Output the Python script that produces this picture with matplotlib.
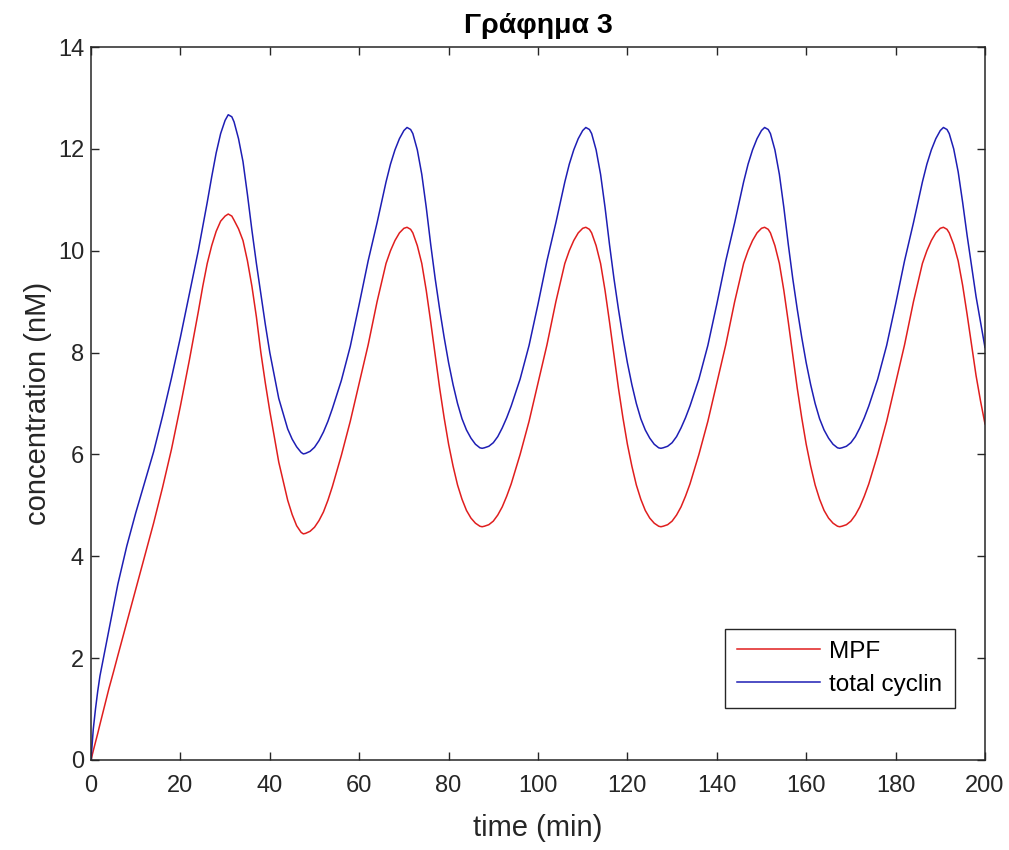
import matplotlib
matplotlib.use("Agg")
import matplotlib.pyplot as plt

# values (one line per oscillation cycle)
time_min = [
    0, 0.5, 1, 1.5, 2, 3, 4, 5, 6, 8, 10, 12, 14, 16, 18, 20, 22, 24, 25, 26, 27, 28, 29, 30, 30.7, 31.5,
    32, 33, 34, 35, 36, 37, 38, 39, 40, 42, 44, 45, 46, 47, 47.5,
    48, 49, 50, 51, 52, 53, 54, 56, 58, 60, 62, 64, 66, 67, 68, 69, 70, 70.7, 71.5, 72, 73, 74, 75, 76, 77, 78, 79, 80, 81, 82, 83, 84, 85, 86, 87, 87.5,
    88, 89, 90, 91, 92, 93, 94, 96, 98, 100, 102, 104, 106, 107, 108, 109, 110, 110.7, 111.5, 112, 113, 114, 115, 116, 117, 118, 119, 120, 121, 122, 123, 124, 125, 126, 127, 127.5,
    128, 129, 130, 131, 132, 133, 134, 136, 138, 140, 142, 144, 146, 147, 148, 149, 150, 150.7, 151.5, 152, 153, 154, 155, 156, 157, 158, 159, 160, 161, 162, 163, 164, 165, 166, 167, 167.5,
    168, 169, 170, 171, 172, 173, 174, 176, 178, 180, 182, 184, 186, 187, 188, 189, 190, 190.7, 191.5, 192, 193, 194, 195, 196, 197, 198, 199, 200,
]
mpf = [
    0, 0.18, 0.35, 0.52, 0.7, 1.05, 1.4, 1.72, 2.05, 2.7, 3.35, 4.0, 4.65, 5.35, 6.1, 6.95, 7.85, 8.8, 9.3, 9.75, 10.1, 10.38, 10.58, 10.68, 10.72, 10.68,
    10.6, 10.43, 10.2, 9.8, 9.3, 8.7, 8.0, 7.4, 6.85, 5.85, 5.1, 4.82, 4.6, 4.47, 4.44,
    4.45, 4.49, 4.57, 4.7, 4.87, 5.1, 5.37, 5.98, 6.65, 7.4, 8.15, 9.0, 9.75, 10.0, 10.2, 10.35, 10.44, 10.46, 10.42, 10.35, 10.1, 9.75, 9.22, 8.6, 7.95, 7.3, 6.72, 6.2, 5.77, 5.4, 5.12, 4.9, 4.75, 4.65, 4.59, 4.58,
    4.59, 4.62, 4.69, 4.81, 4.97, 5.18, 5.42, 6.0, 6.65, 7.4, 8.15, 9.0, 9.75, 10.0, 10.2, 10.35, 10.44, 10.46, 10.42, 10.35, 10.1, 9.75, 9.22, 8.6, 7.95, 7.3, 6.72, 6.2, 5.77, 5.4, 5.12, 4.9, 4.75, 4.65, 4.59, 4.58,
    4.59, 4.62, 4.69, 4.81, 4.97, 5.18, 5.42, 6.0, 6.65, 7.4, 8.15, 9.0, 9.75, 10.0, 10.2, 10.35, 10.44, 10.46, 10.42, 10.35, 10.1, 9.75, 9.22, 8.6, 7.95, 7.3, 6.72, 6.2, 5.77, 5.4, 5.12, 4.9, 4.75, 4.65, 4.59, 4.58,
    4.59, 4.62, 4.69, 4.81, 4.97, 5.18, 5.42, 6.0, 6.65, 7.4, 8.15, 9.0, 9.75, 10.0, 10.2, 10.35, 10.44, 10.46, 10.42, 10.35, 10.12, 9.8, 9.32, 8.75, 8.15, 7.55, 7.05, 6.6,
]
total_cyclin = [
    0, 0.6, 1.0, 1.35, 1.65, 2.1, 2.55, 3.0, 3.45, 4.2, 4.85, 5.45, 6.05, 6.75, 7.5, 8.3, 9.15, 10.0, 10.47, 10.95, 11.45, 11.92, 12.3, 12.56, 12.67, 12.63,
    12.53, 12.2, 11.75, 11.1, 10.4, 9.75, 9.15, 8.55, 8.0, 7.1, 6.5, 6.3, 6.15, 6.04, 6.01,
    6.02, 6.06, 6.14, 6.27, 6.44, 6.65, 6.9, 7.45, 8.12, 8.95, 9.8, 10.55, 11.35, 11.7, 11.98, 12.2, 12.36, 12.42, 12.38, 12.3, 11.98, 11.5, 10.85, 10.12, 9.45, 8.85, 8.3, 7.8, 7.37, 7.0, 6.7, 6.48, 6.32, 6.2, 6.13, 6.12,
    6.13, 6.16, 6.23, 6.35, 6.52, 6.72, 6.95, 7.48, 8.14, 8.95, 9.8, 10.55, 11.35, 11.7, 11.98, 12.2, 12.36, 12.42, 12.38, 12.3, 11.98, 11.5, 10.85, 10.12, 9.45, 8.85, 8.3, 7.8, 7.37, 7.0, 6.7, 6.48, 6.32, 6.2, 6.13, 6.12,
    6.13, 6.16, 6.23, 6.35, 6.52, 6.72, 6.95, 7.48, 8.14, 8.95, 9.8, 10.55, 11.35, 11.7, 11.98, 12.2, 12.36, 12.42, 12.38, 12.3, 11.98, 11.5, 10.85, 10.12, 9.45, 8.85, 8.3, 7.8, 7.37, 7.0, 6.7, 6.48, 6.32, 6.2, 6.13, 6.12,
    6.13, 6.16, 6.23, 6.35, 6.52, 6.72, 6.95, 7.48, 8.14, 8.95, 9.8, 10.55, 11.35, 11.7, 11.98, 12.2, 12.36, 12.42, 12.38, 12.3, 12.0, 11.55, 10.95, 10.3, 9.7, 9.1, 8.6, 8.1,
]
x_ticks = [0, 20, 40, 60, 80, 100, 120, 140, 160, 180, 200]
y_ticks = [0, 2, 4, 6, 8, 10, 12, 14]

plt.rcParams["font.family"] = ["Liberation Sans", "DejaVu Sans"]
plt.rcParams["lines.solid_joinstyle"] = "round"
dark = "#262626"

fig = plt.figure(figsize=(10.09, 8.5), dpi=100)
ax = fig.add_axes([0.0902, 0.1059, 0.8860, 0.8388])

ax.plot(time_min, mpf, color="#e01e1e", lw=1.1, label="MPF")
ax.plot(time_min, total_cyclin, color="#1e1eb4", lw=1.1, label="total cyclin")

ax.set_xlim(0, 200)
ax.set_ylim(0, 14)
ax.set_xticks(x_ticks)
ax.set_yticks(y_ticks)
ax.tick_params(direction="in", length=6, width=1.0, colors=dark, labelsize=17,
               top=True, right=True)
ax.tick_params(axis="x", pad=11)
ax.tick_params(axis="y", pad=5)
for s in ax.spines.values():
    s.set_color(dark)
    s.set_linewidth(1.1)

ax.set_xlabel("time (min)", fontsize=21, color=dark, labelpad=12)
ax.set_ylabel("concentration (nM)", fontsize=21, color=dark, labelpad=4)
ax.set_title("Γράφημα 3", fontsize=20.5, fontweight="bold", color="black", pad=10)

leg = ax.legend(loc="lower right", bbox_to_anchor=(0.966, 0.073), fontsize=17.5,
                fancybox=False, framealpha=1, edgecolor=dark, handlelength=3.4,
                borderpad=0.5, labelspacing=0.45, handletextpad=0.4, borderaxespad=0)
leg.get_frame().set_linewidth(1.0)

fig.savefig("out.png", dpi=100)
